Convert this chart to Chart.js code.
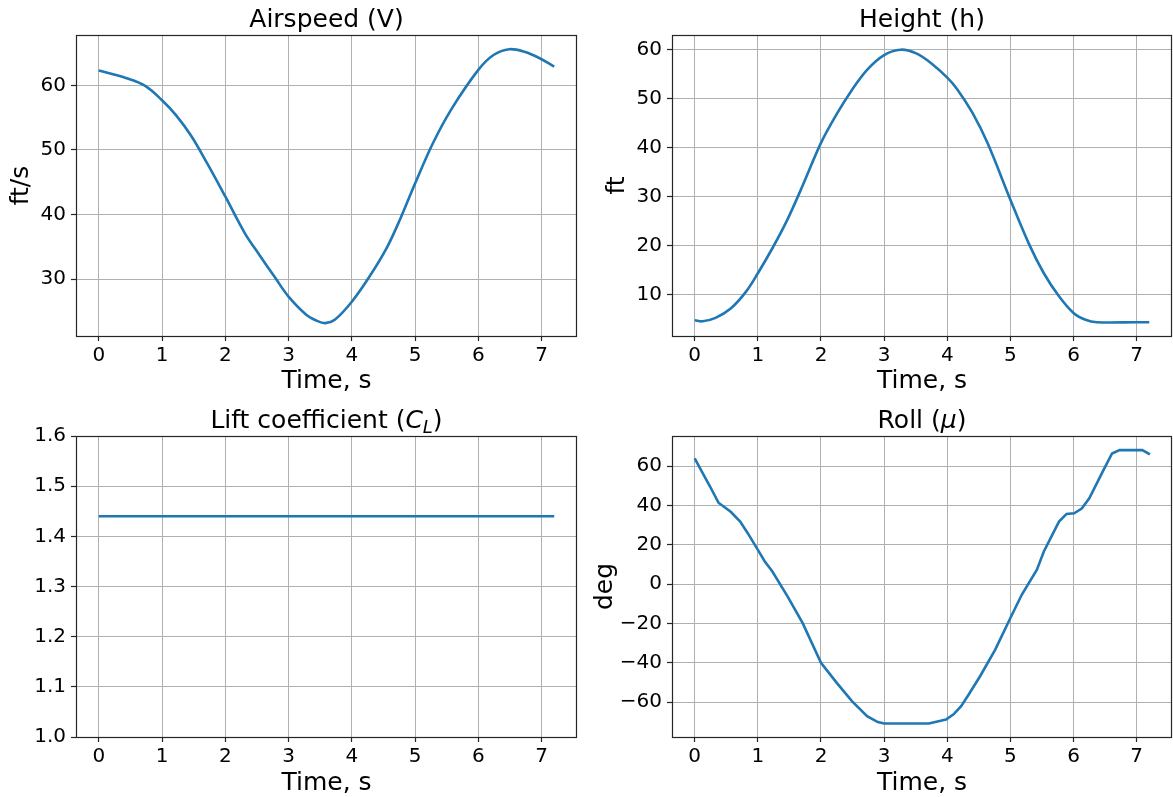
<!DOCTYPE html>
<html><head><meta charset="utf-8">
<script src="https://cdn.jsdelivr.net/npm/chart.js@4/dist/chart.umd.min.js"></script>
<style>
html,body{margin:0;padding:0;background:#fff;}
#wrap{position:relative;width:1173px;height:797px;overflow:hidden;background:#fff}
canvas{position:absolute}
</style></head><body>
<div id="wrap">
<canvas id="c1" width="590" height="398" style="left:0px;top:0px"></canvas>
<canvas id="c2" width="583" height="398" style="left:590px;top:0px"></canvas>
<canvas id="c3" width="590" height="399" style="left:0px;top:398px"></canvas>
<canvas id="c4" width="583" height="399" style="left:590px;top:398px"></canvas>
</div>
<script>
// ---- data ----
const xTicks = [0, 1, 2, 3, 4, 5, 6, 7];

const airTime  = [0, 0.44, 0.74, 1.0, 1.22, 1.46, 1.71, 2.0, 2.31, 2.55, 2.79, 3.0, 3.28, 3.46, 3.58, 3.73, 4.0, 4.28, 4.55, 4.76, 5.0, 5.28, 5.58, 6.0, 6.24, 6.49, 6.73, 6.97, 7.2];
const airSpeed = [62.3, 61.1, 59.9, 57.7, 55.4, 52.2, 48.0, 42.8, 37.1, 33.6, 30.2, 27.3, 24.5, 23.5, 23.2, 23.7, 26.5, 30.4, 34.8, 39.2, 44.8, 51.0, 56.4, 62.4, 64.7, 65.6, 65.2, 64.2, 62.9];
const airTicks = [30, 40, 50, 60];

const hTime = [0, 0.125, 0.33, 0.57, 0.81, 1.0, 1.23, 1.47, 1.71, 2.0, 2.25, 2.49, 2.73, 3.0, 3.26, 3.5, 3.74, 4.0, 4.16, 4.4, 4.64, 5.0, 5.29, 5.53, 5.77, 6.0, 6.19, 6.37, 7.0, 7.2];
const hVal  = [4.8, 4.6, 5.3, 7.2, 10.6, 14.4, 19.5, 25.4, 32.3, 41.0, 46.9, 51.8, 55.9, 58.9, 60.0, 59.3, 57.3, 54.3, 51.9, 47.1, 40.9, 29.4, 20.5, 14.4, 9.7, 6.3, 4.9, 4.4, 4.4, 4.4];
const hTicks = [10, 20, 30, 40, 50, 60];

const clTime = [0, 7.2];
const clVal  = [1.44, 1.44];
const clTicks = [1.0, 1.1, 1.2, 1.3, 1.4, 1.5, 1.6];

const muTime = [0, 0.1, 0.245, 0.376, 0.57, 0.72, 0.84, 1.0, 1.11, 1.23, 1.47, 1.71, 2.0, 2.25, 2.49, 2.73, 2.9, 3.0, 3.71, 3.98, 4.1, 4.22, 4.34, 4.52, 4.76, 5.0, 5.18, 5.42, 5.53, 5.77, 5.89, 6.01, 6.13, 6.25, 6.46, 6.61, 6.73, 7.09, 7.21];
const muVal  = [63.9, 58.0, 49.5, 41.4, 36.8, 31.8, 25.9, 17.4, 11.5, 6.4, -6.2, -19.8, -40.0, -50.2, -59.5, -67.1, -70.1, -70.8, -70.8, -68.8, -66.2, -62.0, -56.1, -46.8, -33.3, -17.2, -5.4, 7.3, 16.6, 31.8, 35.7, 36.0, 38.4, 43.6, 57.1, 66.4, 68.1, 68.1, 65.9];
const muTicks = [-60, -40, -20, 0, 20, 40, 60];

// ---- style ----
const FAM = '"DejaVu Sans", sans-serif';
const LINE = '#1f77b4';
const GRID = '#b0b0b0';
const SPINE = '#262626';
const TITLE_SIZE = 25;
const LABEL_SIZE = 25;
const TICK_SIZE = 20;

const framePlugin = {
  id: 'frame',
  afterDraw(chart, args, opts) {
    const a = chart.chartArea, ctx = chart.ctx;
    ctx.save();
    ctx.strokeStyle = SPINE;
    ctx.lineWidth = 1.2;
    ctx.strokeRect(Math.round(a.left) + 0.5, Math.round(a.top) + 0.5, Math.round(a.right - a.left) - 1, Math.round(a.bottom - a.top));
    // title with mixed segments (regular / italic / subscript)
    const size = opts.size;
    const segs = opts.segments;
    const fontFor = s => (s.it ? 'oblique ' : '') + (s.sub ? Math.round(size * 0.7) : size) + 'px ' + FAM;
    let total = 0;
    segs.forEach(s => { ctx.font = fontFor(s); s.w = ctx.measureText(s.t).width; total += s.w; });
    let x = (a.left + a.right) / 2 - total / 2;
    const base = a.top - opts.gap;
    ctx.fillStyle = '#000';
    ctx.textBaseline = 'alphabetic';
    ctx.textAlign = 'left';
    segs.forEach(s => { ctx.font = fontFor(s); ctx.fillText(s.t, x, base + (s.sub ? size * 0.2 : 0)); x += s.w; });
    ctx.restore();
  }
};

function fmt(dec) {
  return v => Number(v).toFixed(dec).replace('-', '\u2212');
}

function makeChart(id, times, vals, o) {
  const data = times.map((t, i) => ({ x: t, y: vals[i] }));
  return new Chart(document.getElementById(id), {
    type: 'line',
    data: { datasets: [{
      data, borderColor: LINE, borderWidth: 2.6, pointRadius: 0, fill: false,
      tension: o.smooth ? 0.35 : 0
    }] },
    options: {
      responsive: false, animation: false, devicePixelRatio: 1,
      layout: { padding: { top: o.padTop, left: 0, right: o.padRight, bottom: 0 } },
      plugins: { legend: { display: false }, tooltip: { enabled: false }, title: { display: false },
        frame: { segments: o.title, size: TITLE_SIZE, gap: 8.3 } },
      scales: {
        x: {
          type: 'linear', min: -0.36, max: 7.56,
          afterBuildTicks: s => { s.ticks = xTicks.map(v => ({ value: v })); },
          afterFit: s => { s.height = o.xHeight; },
          grid: { color: GRID, lineWidth: 1, drawTicks: true, tickLength: 5, tickColor: SPINE, tickWidth: 1.2 },
          border: { display: false },
          ticks: { font: { family: FAM, size: TICK_SIZE }, color: '#000', padding: 3, maxRotation: 0, autoSkip: false, callback: fmt(0) },
          title: { display: true, text: 'Time, s', color: '#000', font: { family: FAM, size: LABEL_SIZE, lineHeight: 1 }, padding: { top: 0, bottom: o.xTitlePad } }
        },
        y: {
          type: 'linear', min: o.yMin, max: o.yMax,
          afterBuildTicks: s => { s.ticks = o.yTicks.map(v => ({ value: v })); },
          afterFit: s => { s.width = o.yWidth; },
          grid: { color: GRID, lineWidth: 1, drawTicks: true, tickLength: 5, tickColor: SPINE, tickWidth: 1.2 },
          border: { display: false },
          ticks: { font: { family: FAM, size: TICK_SIZE }, color: '#000', padding: 5, autoSkip: false, callback: fmt(o.dec) },
          title: { display: !!o.yLabel, text: o.yLabel || '', color: '#000', font: { family: FAM, size: LABEL_SIZE, lineHeight: 1 }, padding: { top: o.yTitlePad, bottom: 0 } }
        }
      }
    },
    plugins: [framePlugin]
  });
}

makeChart('c1', airTime, airSpeed, {
  smooth: true, yMin: 21.2, yMax: 67.8, yTicks: airTicks, dec: 0, yLabel: 'ft/s', yTitlePad: 8.5,
  padTop: 35, padRight: 13, xHeight: 62, yWidth: 76, xTitlePad: 4,
  title: [{ t: 'Airspeed (V)' }]
});
makeChart('c2', hTime, hVal, {
  smooth: true, yMin: 1.6, yMax: 63.0, yTicks: hTicks, dec: 0, yLabel: 'ft', yTitlePad: 14.5,
  padTop: 35, padRight: 1, xHeight: 62, yWidth: 82, xTitlePad: 4,
  title: [{ t: 'Height (h)' }]
});
makeChart('c3', clTime, clVal, {
  smooth: false, yMin: 1.0, yMax: 1.6, yTicks: clTicks, dec: 1, yLabel: '', yTitlePad: 0,
  padTop: 38, padRight: 13, xHeight: 60, yWidth: 76, xTitlePad: 1.5,
  title: [{ t: 'Lift coefficient (' }, { t: 'C', it: true }, { t: 'L', it: true, sub: true }, { t: ')' }]
});
makeChart('c4', muTime, muVal, {
  smooth: false, yMin: -77.7, yMax: 75.3, yTicks: muTicks, dec: 0, yLabel: 'deg', yTitlePad: 2.5,
  padTop: 38, padRight: 1, xHeight: 60, yWidth: 82, xTitlePad: 1.5,
  title: [{ t: 'Roll (' }, { t: 'μ', it: true }, { t: ')' }]
});
</script>
</body></html>
